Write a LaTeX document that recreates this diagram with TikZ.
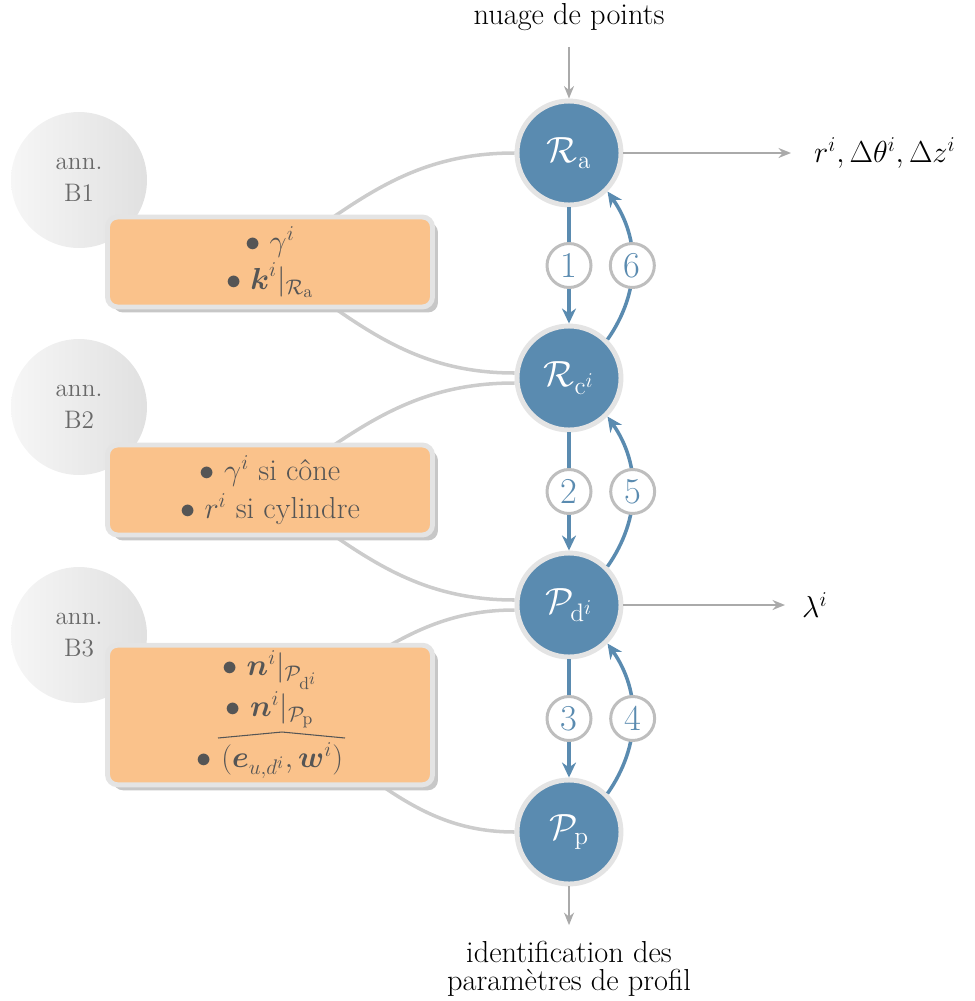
\documentclass[tikz,border=0pt]{standalone}
\usepackage{amsmath,amssymb}
\usepackage{tikz}
\usepackage{xcolor}
\usetikzlibrary{arrows.meta,shadows}

\definecolor{nodeblue}{RGB}{90,139,176}
\definecolor{ringgray}{RGB}{228,228,228}
\definecolor{boxorange}{RGB}{250,194,139}
\definecolor{linkgray}{RGB}{204,204,204}
\definecolor{arrowgray}{RGB}{170,170,170}
\definecolor{textgray}{RGB}{85,85,85}
\definecolor{anntext}{RGB}{105,105,105}
\definecolor{numgray}{RGB}{190,190,190}

\begin{document}
\begin{tikzpicture}[x=0.02cm,y=-0.02cm,
  mainnode/.style={circle,fill=nodeblue,draw=ringgray,line width=2.8pt,minimum size=2.08cm,inner sep=0pt,text=white,font=\huge},
  annnode/.style={circle,left color=gray!7,right color=gray!24,minimum size=2.72cm,inner sep=0pt,text=anntext,font=\Large,align=center},
  notebox/.style={rounded corners=0.2cm,fill=boxorange,draw=ringgray,line width=2.8pt,minimum width=6.5cm,text=textgray,font=\LARGE,align=center,
    drop shadow={shadow xshift=0.11cm,shadow yshift=-0.11cm,fill=black!22,opacity=1}},
  stepnum/.style={circle,fill=white,draw=numgray,line width=1.7pt,minimum size=0.88cm,inner sep=0pt,text=nodeblue,font=\huge},
  flowarrow/.style={draw=nodeblue,line width=2pt,-{Stealth[length=0.3cm,width=0.28cm]}},
  ioarrow/.style={draw=arrowgray,line width=1.1pt,-{Stealth[length=0.25cm,width=0.2cm]}},
  link/.style={draw=linkgray,line width=2pt}]
\useasboundingbox (0,0) rectangle (974,1001);

% annotations
\node[annnode] (annB1) at (79,180) {ann.\\B1};
\node[annnode] (annB2) at (79,407) {ann.\\B2};
\node[annnode] (annB3) at (79,635) {ann.\\B3};

% positions of the main nodes
\coordinate (cRa) at (569,153);
\coordinate (cRc) at (569,378);
\coordinate (cPd) at (569,605);
\coordinate (cPp) at (569,832);
\coordinate (cB1) at (270,262);
\coordinate (cB2) at (270,490);
\coordinate (cB3) at (270,715);

% links between boxes and steps
\draw[link] (cB1) to[out=35,in=180] ([xshift=-1.09cm]cRa);
\draw[link] (cB1) to[out=-35,in=180] ([xshift=-1.09cm,yshift=0.1cm]cRc);
\draw[link] (cB2) to[out=35,in=180] ([xshift=-1.09cm,yshift=-0.1cm]cRc);
\draw[link] (cB2) to[out=-35,in=180] ([xshift=-1.09cm,yshift=0.1cm]cPd);
\draw[link] (cB3) to[out=25,in=180] ([xshift=-1.09cm,yshift=-0.1cm]cPd);
\draw[link] (cB3) to[out=-25,in=180] ([xshift=-1.09cm]cPp);

% boxes
\node[notebox,minimum height=1.8cm] (noteB1) at (cB1) {$\bullet\ \gamma^i$\\$\bullet\ \boldsymbol{k}^i|_{\mathcal{R}_\mathrm{a}}$};
\node[notebox,minimum height=1.8cm] (noteB2) at (cB2) {$\bullet\ \gamma^i$ si cône\\$\bullet\ r^i$ si cylindre};
\node[notebox,minimum height=2.7cm] (noteB3) at (cB3) {$\bullet\ \boldsymbol{n}^i|_{\mathcal{P}_{\mathrm{d}^i}}$\\$\bullet\ \boldsymbol{n}^i|_{\mathcal{P}_\mathrm{p}}$\\[0.25cm]$\bullet\ (\boldsymbol{e}_{u,d^i},\boldsymbol{w}^i)$};
\draw[textgray,line width=0.6pt] ([shift={(-52,23)}]noteB3.center) -- ([shift={(12,17)}]noteB3.center) -- ([shift={(75,23)}]noteB3.center);

% steps
\node[mainnode] (Ra) at (cRa) {$\mathcal{R}_\mathrm{a}$};
\node[mainnode] (Rc) at (cRc) {$\mathcal{R}_{\mathrm{c}^i}$};
\node[mainnode] (Pd) at (cPd) {$\mathcal{P}_{\mathrm{d}^i}$};
\node[mainnode] (Pp) at (cPp) {$\mathcal{P}_\mathrm{p}$};

\draw[flowarrow] (Ra) -- node[stepnum] {1} (Rc);
\draw[flowarrow] (Rc) -- node[stepnum] {2} (Pd);
\draw[flowarrow] (Pd) -- node[stepnum] {3} (Pp);
\draw[flowarrow] (Pp.45) to[bend right=35] node[stepnum] {4} (Pd.-45);
\draw[flowarrow] (Pd.45) to[bend right=35] node[stepnum] {5} (Rc.-45);
\draw[flowarrow] (Rc.45) to[bend right=35] node[stepnum] {6} (Ra.-45);

% inputs and outputs
\node[font=\LARGE] (cloud) at (569,17) {nuage de points};
\node[font=\LARGE,anchor=west] (raout) at (808,153) {$r^i, \Delta\theta^i, \Delta z^i$};
\node[font=\LARGE,anchor=west] (pdout) at (796,605) {$\lambda^i$};
\node[font=\LARGE,align=center] (profil) at (569,969) {identification des\\[-6pt]paramètres de profil};

\draw[ioarrow,shorten <=0.2cm] (cloud) -- (Ra);
\draw[ioarrow,shorten >=0.34cm] (Ra) -- (raout);
\draw[ioarrow,shorten >=0.22cm] (Pd) -- (pdout);
\draw[ioarrow,shorten >=0.2cm] (Pp) -- (profil);
\end{tikzpicture}
\end{document}
